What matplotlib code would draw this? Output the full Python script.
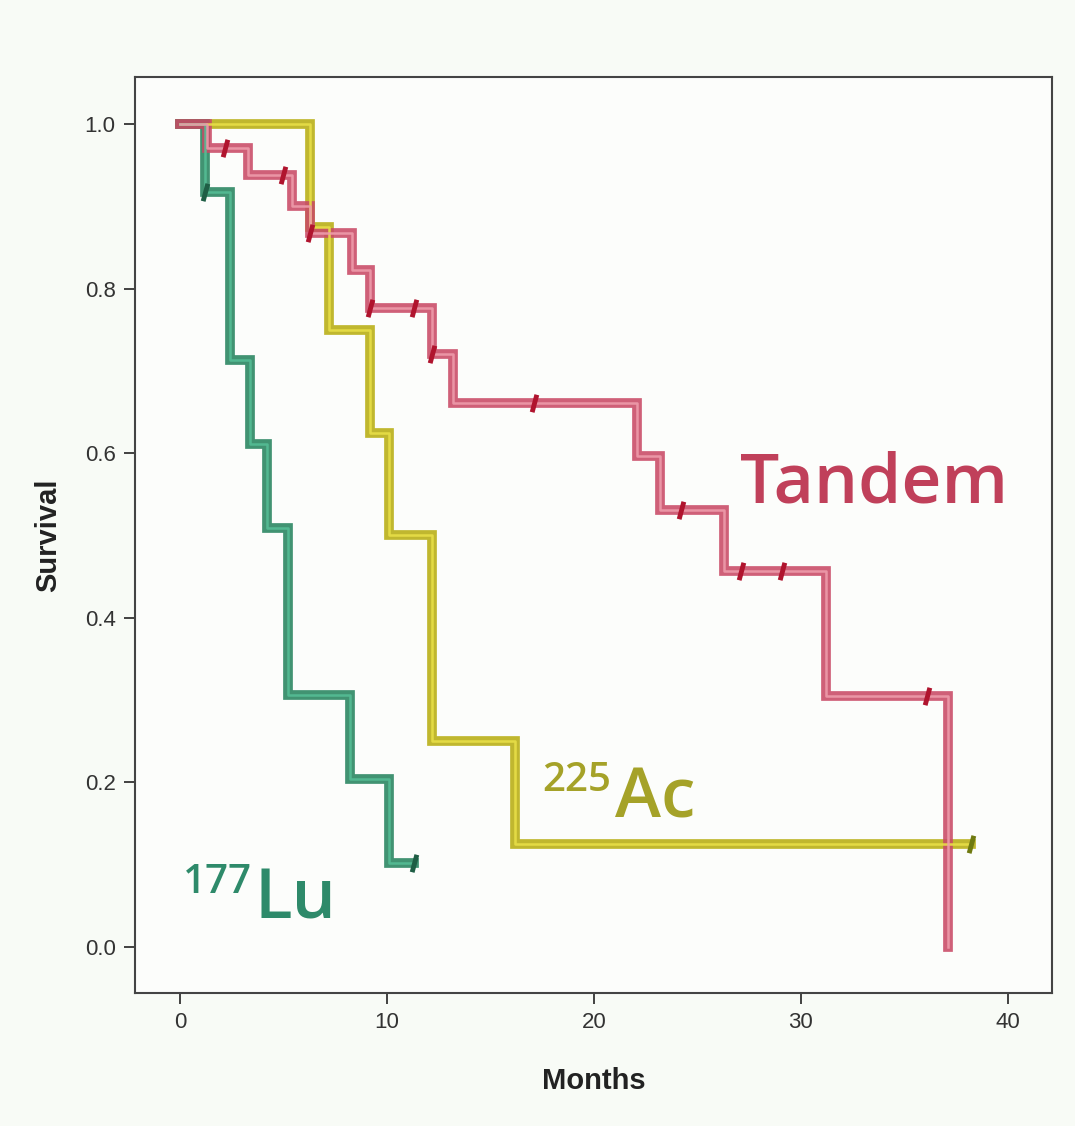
import numpy as np
import matplotlib
matplotlib.use("Agg")
import matplotlib.pyplot as plt

# Kaplan-Meier curves (months, survival)
TANDEM_T = [0, 1.3, 3.3, 5.4, 6.3, 8.3, 9.2, 12.2, 13.2, 22.1, 23.2, 26.3, 31.2, 37.1]
TANDEM_S = [1.0, 0.971, 0.938, 0.90, 0.868, 0.823, 0.776, 0.72, 0.661, 0.597, 0.531, 0.457, 0.305, 0.0]
TANDEM_CENS = [2.2, 5.0, 6.3, 9.2, 11.3, 12.2, 17.1, 24.2, 27.1, 29.1, 36.1]

AC_T = [0, 6.3, 7.2, 9.2, 10.1, 12.2, 16.2, 38.2]
AC_S = [1.0, 0.875, 0.75, 0.625, 0.5, 0.25, 0.125, 0.125]
AC_CENS = [38.2]

LU_T = [0, 1.2, 2.4, 3.4, 4.2, 5.2, 8.2, 10.1, 11.3]
LU_S = [1.0, 0.917, 0.713, 0.611, 0.509, 0.306, 0.204, 0.102, 0.102]
LU_CENS = [1.2, 11.3]

X_TICKS = [0, 10, 20, 30, 40]
Y_TICKS = [0.0, 0.2, 0.4, 0.6, 0.8, 1.0]


def step_value(times, surv, t):
    idx = np.searchsorted(times, t, side="right") - 1
    return surv[idx]


def draw_curve(ax, times, surv, cens, outer, inner, mark):
    ax.step(times, surv, where="post", color=outer, lw=7, alpha=0.88,
            solid_joinstyle="miter", zorder=2)
    ax.step(times, surv, where="post", color=inner, lw=1.8, alpha=0.9, zorder=3)
    cy = [step_value(times, surv, t) for t in cens]
    ax.plot(cens, cy, ls="none", marker=(2, 0, -15), ms=13, mew=3.5,
            color=mark, zorder=4)


fig = plt.figure(figsize=(10.75, 11.26), dpi=100, facecolor="#f8fbf6")
ax = fig.add_axes([0.1256, 0.1181, 0.853, 0.8135])
ax.set_facecolor("#fcfdfb")

draw_curve(ax, AC_T, AC_S, AC_CENS, "#b8ae12", "#e8df48", "#6f7a10")
draw_curve(ax, LU_T, LU_S, LU_CENS, "#27845f", "#55bd95", "#1f5e45")
draw_curve(ax, TANDEM_T, TANDEM_S, TANDEM_CENS, "#c94a66", "#ee9cab", "#b0142e")

ax.set_xlim(-2.17, 42.13)
ax.set_ylim(-0.056, 1.057)
ax.set_xticks(X_TICKS)
ax.set_yticks(Y_TICKS)
ax.set_yticklabels([f"{v:.1f}" for v in Y_TICKS])

tick_font = ["Liberation Sans Narrow", "Liberation Sans", "DejaVu Sans"]
ax.tick_params(direction="out", length=8, width=1.3, color="#333333",
               labelsize=16, labelcolor="#333333", pad=6)
for lab in ax.get_xticklabels() + ax.get_yticklabels():
    lab.set_family(tick_font)
for sp in ax.spines.values():
    sp.set_linewidth(1.5)
    sp.set_color("#444444")

ax.set_xlabel("Months", family=tick_font, fontsize=21, fontweight="bold",
              color="#222222", labelpad=24)
ax.set_ylabel("Survival", family=tick_font, fontsize=21, fontweight="bold",
              color="#222222", labelpad=16)

label_font = ["Open Sans", "DejaVu Sans"]
ax.text(27.05, 0.54, "Tandem", color="#c0405a", fontsize=50,
        fontweight="semibold", family=label_font, va="baseline", ha="left")
ax.text(17.5, 0.19, "225", color="#a5a228", fontsize=29,
        fontweight="semibold", family=label_font, va="baseline", ha="left")
ax.text(21.0, 0.157, "Ac", color="#a5a228", fontsize=50,
        fontweight="semibold", family=label_font, va="baseline", ha="left")
ax.text(0.15, 0.066, "177", color="#2e8a6a", fontsize=29,
        fontweight="semibold", family=label_font, va="baseline", ha="left")
ax.text(3.6, 0.035, "Lu", color="#2e8a6a", fontsize=50,
        fontweight="semibold", family=label_font, va="baseline", ha="left")

fig.savefig("out.png", dpi=100, facecolor=fig.get_facecolor())
plt.close(fig)
